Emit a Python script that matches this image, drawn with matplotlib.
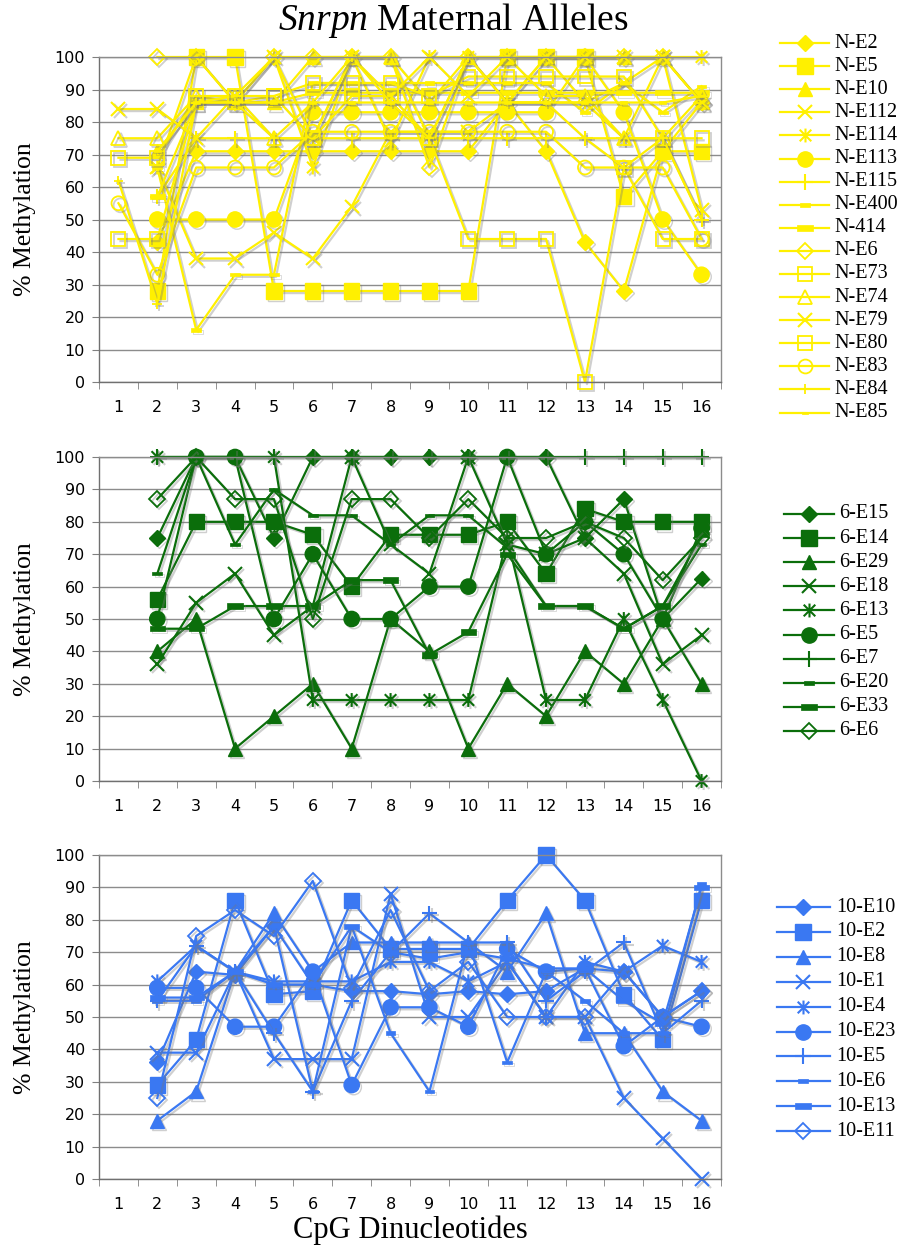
import numpy as np
import matplotlib
matplotlib.use('Agg')
import matplotlib.pyplot as plt
import matplotlib.patheffects as pe
from matplotlib.path import Path
from matplotlib.lines import Line2D

plt.rcParams['mathtext.fontset'] = 'custom'
plt.rcParams['mathtext.rm'] = 'Liberation Serif'
plt.rcParams['mathtext.it'] = 'Liberation Serif:italic'

nan = np.nan
cpg = np.arange(1, 17)

# ---- N (yellow) alleles ----
n_labels = ['N-E2', 'N-E5', 'N-E10', 'N-E112', 'N-E114', 'N-E113', 'N-E115', 'N-E400',
            'N-414', 'N-E6', 'N-E73', 'N-E74', 'N-E79', 'N-E80', 'N-E83', 'N-E84', 'N-E85']
n_E2 = [nan, 43, 71, 71, 71, 71, 71, 71, 71, 71, 86, 71, 43, 28, 71, 86]
n_E5 = [nan, 28, 100, 100, 28, 28, 28, 28, 28, 28, 100, 100, 100, 57, 71, 71]
n_E10 = [nan, 71, 86, 86, 86, 100, 100, 100, 86, 100, 86, 100, 100, 100, 100, 86]
n_E112 = [nan, 66, 38, 38, 46, 38, 54, 77, 77, 77, 86, 86, 86, 92, 100, 53]
n_E114 = [nan, 66, 100, 86, 100, 66, 100, 74, 100, 100, 86, 100, 86, 75, 100, 100]
n_E113 = [nan, 50, 50, 50, 50, 83, 83, 83, 83, 83, 83, 83, 100, 83, 50, 33]
n_E115 = [nan, 57, 75, 75, 75, 75, 75, 75, 75, 75, 75, 75, 75, 75, 75, 50]
n_E400 = [nan, 66, 16, 33, 33, 92, 92, 92, 92, 92, 92, 92, 83, 92, 83, 91]
n_414 = [nan, 57, 86, 86, 86, 89, 89, 89, 89, 89, 89, 89, 89, 89, 89, 89]
n_E6 = [nan, 100, 100, 86, 100, 100, 100, 100, 66, 100, 100, 100, 100, 100, 100, 86]
n_E73 = [69, 69, 88, 86, 88, 92, 92, 92, 88, 94, 94, 94, 94, 94, 75, 75]
n_E74 = [75, 75, 88, 88, 75, 75, 100, 100, 75, 100, 100, 88, 88, 75, 75, 88]
n_E79 = [84, 84, 75, 88, 100, 75, 100, 88, 100, 88, 100, 100, 100, 100, 100, 86]
n_E80 = [44, 44, 86, 88, 88, 75, 88, 88, 75, 44, 44, 44, 0, 66, 44, 44]
n_E83 = [55, 33, 66, 66, 66, 77, 77, 77, 77, 77, 77, 77, 66, 66, 66, 44]
n_E84 = [62, 24, 86, 86, 75, 86, 100, 86, 75, 100, 86, 86, 75, 66, 75, 50]
n_E85 = [nan, 71, 86, 86, 86, 86, 86, 86, 86, 86, 86, 86, 86, 86, 86, 88]
n_values = [n_E2, n_E5, n_E10, n_E112, n_E114, n_E113, n_E115, n_E400, n_414,
            n_E6, n_E73, n_E74, n_E79, n_E80, n_E83, n_E84, n_E85]

# ---- 6 (green) alleles ----
g_labels = ['6-E15', '6-E14', '6-E29', '6-E18', '6-E13', '6-E5', '6-E7', '6-E20', '6-E33', '6-E6']
g_E15 = [nan, 75, 100, 100, 75, 100, 100, 100, 100, 100, 100, 100, 75, 87, 50, 62.5]
g_E14 = [nan, 56, 80, 80, 80, 76, 60, 76, 76, 76, 80, 64, 84, 80, 80, 80]
g_E29 = [nan, 40, 50, 10, 20, 30, 10, 50, 40, 10, 30, 20, 40, 30, 50, 30]
g_E18 = [nan, 36, 55, 64, 45, 54, 100, 73, 64, 100, 73, 70, 75, 64, 36, 45]
g_E13 = [nan, 100, 100, 100, 100, 25, 25, 25, 25, 25, 75, 25, 25, 50, 25, 0]
g_E5 = [nan, 50, 100, 100, 50, 70, 50, 50, 60, 60, 100, 70, 80, 70, 50, 78]
g_E7 = [nan, 100, 100, 100, 100, 100, 100, 100, 100, 100, 100, 100, 100, 100, 100, 100]
g_E20 = [nan, 64, 100, 73, 90, 82, 82, 73, 82, 82, 72, 54, 54, 47, 54, 73]
g_E33 = [nan, 47, 47, 54, 54, 54, 62, 62, 39, 46, 70, 54, 54, 47, 54, 76]
g_E6 = [nan, 87, 100, 87, 87, 50, 87, 87, 75, 87, 75, 75, 80, 75, 62, 75]
g_values = [g_E15, g_E14, g_E29, g_E18, g_E13, g_E5, g_E7, g_E20, g_E33, g_E6]

# ---- 10 (blue) alleles ----
b_labels = ['10-E10', '10-E2', '10-E8', '10-E1', '10-E4', '10-E23', '10-E5', '10-E6', '10-E13', '10-E11']
b_E10 = [nan, 36, 64, 63, 78, 60, 58, 58, 57, 58, 57, 58, 65, 64, 50, 58]
b_E2 = [nan, 29, 43, 86, 57, 58, 86, 71, 71, 71, 86, 100, 86, 57, 43, 86]
b_E8 = [nan, 18, 27, 64, 82, 64, 73, 73, 73, 73, 64, 82, 45, 45, 27, 18]
b_E1 = [nan, 39, 39, 64, 37, 37, 37, 88, 50, 50, 67, 50, 50, 25, 12.5, 0]
b_E4 = [nan, 61, 72, 64, 61, 61, 61, 67, 67, 61, 67, 50, 67, 64, 72, 67]
b_E23 = [nan, 59, 59, 47, 47, 64, 29, 53, 53, 47, 71, 64, 65, 41, 50, 47]
b_E5 = [nan, 55, 72, 64, 45, 27, 55, 70, 82, 73, 73, 55, 64, 73, 45, 55]
b_E6 = [nan, 55, 55, 64, 78, 27, 78, 45, 27, 73, 36, 64, 55, 45, 45, 91]
b_E13 = [nan, 56, 56, 64, 60, 60, 78, 70, 68, 70, 68, 65, 65, 55, 48, 90]
b_E11 = [nan, 25, 75, 83, 75, 92, 59, 83, 58, 67, 50, 50, 50, 64, 50, 58]
b_values = [b_E10, b_E2, b_E8, b_E1, b_E4, b_E23, b_E5, b_E6, b_E13, b_E11]

# marker shapes (Excel-like)
star = Path([(-1, -1), (1, 1), (-1, 1), (1, -1), (0, -1.2), (0, 1.2)],
            [Path.MOVETO, Path.LINETO] * 3)
dash = Path([(-1, -0.35), (1, -0.35), (1, 0.35), (-1, 0.35), (-1, -0.35)],
            [Path.MOVETO, Path.LINETO, Path.LINETO, Path.LINETO, Path.CLOSEPOLY])

def mk(name):
    d = {
        'D': dict(marker='D', ms=8, mew=1),
        's': dict(marker='s', ms=11, mew=1),
        '^': dict(marker='^', ms=10, mew=1),
        'x': dict(marker='x', ms=10, mew=1.5),
        '*': dict(marker=star, ms=10, mew=1.5),
        'o': dict(marker='o', ms=11, mew=1),
        '+': dict(marker='+', ms=11, mew=1.5),
        'ds': dict(marker=dash, ms=7, mew=0.5),
        'dl': dict(marker=dash, ms=11, mew=0.5),
        'Do': dict(marker='D', ms=8, mew=1.3, mfc='none'),
        'so': dict(marker='s', ms=10, mew=1.3, mfc='none'),
        '^o': dict(marker='^', ms=10, mew=1.3, mfc='none'),
        'oo': dict(marker='o', ms=10, mew=1.3, mfc='none'),
        '+s': dict(marker='+', ms=7, mew=1.3),
        'dt': dict(marker=dash, ms=5, mew=0.5),
    }
    return d[name]

n_marks = ['D', 's', '^', 'x', '*', 'o', '+', 'ds', 'dl', 'Do', 'so', '^o', 'x', 'so', 'oo', '+s', 'dt']
g_marks = ['D', 's', '^', 'x', '*', 'o', '+', 'ds', 'dl', 'Do']
b_marks = ['D', 's', '^', 'x', '*', 'o', '+', 'ds', 'dl', 'Do']

W, H = 911, 1247
fig = plt.figure(figsize=(W / 100, H / 100), dpi=100)

shadow = [pe.SimpleLineShadow(offset=(1.5, -1.5), shadow_color='#777777', alpha=0.35), pe.Normal()]

def fx(px):
    return px / W

def fy(py):
    return 1 - py / H

panels = [
    (57, 382, n_labels, n_values, n_marks, '#FFF000', (780, 829, 805, 834), 43, 23.1),
    (457, 781, g_labels, g_values, g_marks, '#0B6E0B', (784, 834, 809, 839), 514, 24.1),
    (855, 1179, b_labels, b_values, b_marks, '#3A78F2', (777, 830, 803, 836), 907, 24.9),
]

for top, bot, labels, values, marks, col, lg, ly0, ldy in panels:
    ax = fig.add_axes([fx(99), fy(bot), fx(721) - fx(99), (bot - top) / H])
    for lab, vals, m in zip(labels, values, marks):
        st = mk(m)
        ax.plot(cpg, vals, color=col, lw=1.6, mec=col,
                mfc=st.get('mfc', col), marker=st['marker'], ms=st['ms'],
                mew=st['mew'], path_effects=shadow, clip_on=False)
    ax.set_xlim(0.5, 16.5)
    ax.set_ylim(0, 100)
    ax.set_yticks(np.arange(0, 101, 10))
    ax.set_xticks(cpg)
    ax.set_xticks(np.arange(0.5, 17, 1), minor=True)
    ax.tick_params(axis='x', which='major', length=0, pad=13, labelsize=11.5)
    ax.tick_params(axis='x', which='minor', length=5, color='#808080', direction='out')
    ax.tick_params(axis='y', length=5, color='#808080', pad=5, labelsize=11.5)
    ax.grid(axis='y', color='#8c8c8c', lw=1)
    ax.set_axisbelow(True)
    for s in ax.spines.values():
        s.set_color('#8c8c8c')
        s.set_linewidth(1)
    ax.spines['left'].set_color('#707070')
    ax.spines['bottom'].set_color('#707070')
    fig.text(fx(25), fy((top + bot) / 2), '% Methylation', rotation=90, ha='center', va='center',
             fontsize=18.5, family='Liberation Serif')

    # legend, drawn by hand at the right
    x0, x1, xm, xt = lg
    for i, (lab, m) in enumerate(zip(labels, marks)):
        st = mk(m)
        yy = fy(ly0 + i * ldy)
        fig.add_artist(Line2D([fx(x0), fx(x1)], [yy, yy], transform=fig.transFigure,
                              color=col, lw=1.6))
        fig.add_artist(Line2D([fx(xm)], [yy], transform=fig.transFigure, color=col, lw=0,
                              marker=st['marker'], ms=st['ms'], mew=st['mew'], mec=col,
                              mfc=st.get('mfc', col)))
        fig.text(fx(xt), yy, lab, ha='left', va='center', fontsize=14.5, family='Liberation Serif')

fig.text(fx(453), fy(20), r'$\mathit{Snrpn}$ Maternal Alleles', ha='center', va='center',
         fontsize=27, family='Liberation Serif')
fig.text(fx(410), fy(1230), 'CpG Dinucleotides', ha='center', va='center',
         fontsize=22, family='Liberation Serif')

fig.savefig('out.png', dpi=100, facecolor='white')
